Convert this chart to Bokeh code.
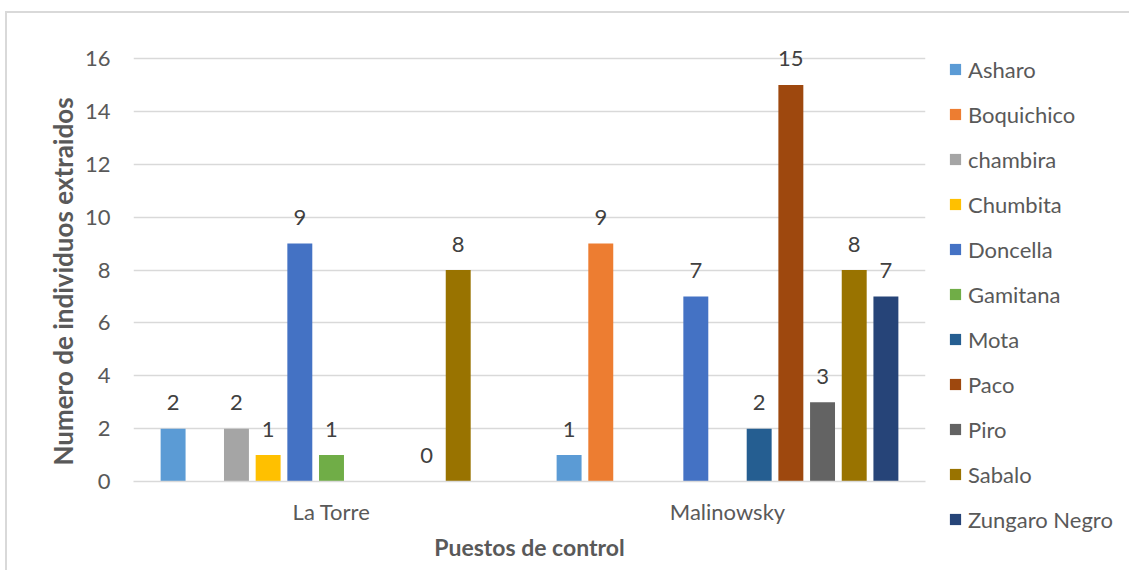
from bokeh.plotting import figure
from bokeh.models import ColumnDataSource, FactorRange, Range1d, Legend, LegendItem, FixedTicker, Title
from bokeh.transform import dodge
from bokeh.core.properties import value
from bokeh.embed import file_html
from bokeh.resources import INLINE

# Puestos de control
categories = ["La Torre", "Malinowsky"]

# Individuos extraidos por especie (None = sin registro)
species = ["Asharo", "Boquichico", "chambira", "Chumbita", "Doncella", "Gamitana",
           "Mota", "Paco", "Piro", "Sabalo", "Zungaro Negro"]
asharo = [2, 1]
boquichico = [None, 9]
chambira = [2, None]
chumbita = [1, None]
doncella = [9, 7]
gamitana = [1, None]
mota = [None, 2]
paco = [None, 15]
piro = [0, 3]
sabalo = [8, 8]
zungaro_negro = [None, 7]

y_ticks = [0, 2, 4, 6, 8, 10, 12, 14, 16]

series = [asharo, boquichico, chambira, chumbita, doncella, gamitana,
          mota, paco, piro, sabalo, zungaro_negro]
colors = ["#5B9BD5", "#ED7D31", "#A5A5A5", "#FFC000", "#4472C4", "#70AD47",
          "#255E91", "#9E480E", "#636363", "#997300", "#264478"]

FONT = "Lato"
TEXT = "#595959"
GRID = "#D9D9D9"
LBL = "22px"

# the frame reaches a little above the 16 line so the top value label has room
px_per_unit = 423 / 16
head_px = 18
p = figure(
    x_range=FactorRange(*categories, range_padding=0),
    y_range=Range1d(0, 16 + head_px / px_per_unit),
    frame_width=792, frame_height=423 + head_px,
    output_backend="svg", toolbar_location=None,
    min_border_left=126, min_border_right=0, min_border_top=45 - head_px, min_border_bottom=89,
    background_fill_color="white", border_fill_color="white",
    outline_line_color=None,
)
p.styles = {"border-left": "2px solid #D9D9D9", "border-top": "2px solid #D9D9D9"}
p.margin = (11, 0, 0, 5)

step = 0.08
bar_w = 0.063
items = []
for i, (name, vals, col) in enumerate(zip(species, series, colors)):
    tops = [float("nan") if v is None else v for v in vals]
    labels = ["" if v is None else str(v) for v in vals]
    ys = [0 if v is None else v for v in vals]
    src = ColumnDataSource(dict(cat=categories, top=tops, lab=labels, ly=ys))
    off = (i - 5) * step
    r = p.vbar(x=dodge("cat", off, range=p.x_range), top="top", width=bar_w,
               source=src, fill_color=col, line_color=None)
    p.text(x=dodge("cat", off, range=p.x_range), y="ly", text="lab", source=src,
           text_align="center", text_baseline="alphabetic", y_offset=-26,
           text_font=value(FONT), text_font_size=LBL, text_color="#404040")
    items.append(LegendItem(label=name, renderers=[r]))

legend = Legend(items=items, location=(23, -52), orientation="vertical",
                margin=0, padding=0, spacing=17,
                glyph_width=14, glyph_height=14, label_height=28,
                label_standoff=6,
                label_text_font=FONT, label_text_font_size=LBL,
                label_text_color=TEXT,
                border_line_color=None, background_fill_alpha=0)
p.add_layout(legend, "right")

# grid
p.xgrid.grid_line_color = None
p.ygrid.grid_line_color = GRID
p.ygrid.grid_line_width = 1.3
p.ygrid.ticker = FixedTicker(ticks=y_ticks)

# y axis
p.yaxis.ticker = FixedTicker(ticks=y_ticks)
p.yaxis.axis_line_color = None
p.yaxis.major_tick_line_color = None
p.yaxis.minor_tick_line_color = None
p.yaxis.major_tick_out = 0
p.yaxis.minor_tick_out = 0
p.yaxis.major_label_text_font = FONT
p.yaxis.major_label_text_font_size = LBL
p.yaxis.major_label_text_color = TEXT
p.yaxis.major_label_standoff = 23

# y axis title as a side title, anchored from the bottom of the frame
ytitle = Title(text="Numero de individuos extraidos", align="left", offset=16,
               text_font=FONT, text_font_size="26px", text_font_style="bold",
               text_color=TEXT, standoff=6)
p.add_layout(ytitle, "left")

# x axis
p.xaxis.axis_line_color = GRID
p.xaxis.axis_line_width = 1.3
p.xaxis.major_tick_line_color = None
p.xaxis.minor_tick_line_color = None
p.xaxis.major_tick_out = 0
p.xaxis.minor_tick_out = 0
p.xaxis.major_label_text_font = FONT
p.xaxis.major_label_text_font_size = LBL
p.xaxis.major_label_text_color = TEXT
p.xaxis.major_label_standoff = 16
p.xaxis.axis_label = "Puestos de control"
p.xaxis.axis_label_text_font = FONT
p.xaxis.axis_label_text_font_size = "23px"
p.xaxis.axis_label_text_font_style = "bold"
p.xaxis.axis_label_text_color = TEXT
p.xaxis.axis_label_standoff = 5

open("out.html", "w").write(file_html(p, INLINE))
